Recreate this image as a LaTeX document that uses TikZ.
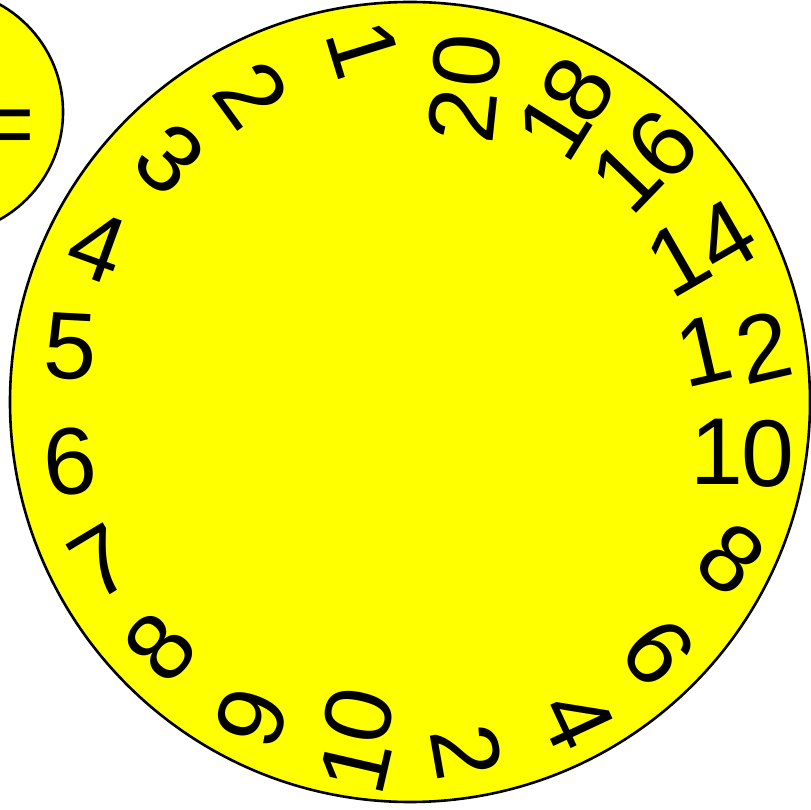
\documentclass[tikz,border=0pt]{standalone}
\usepackage{fontspec}
\setmainfont{Liberation Sans}
\definecolor{discyellow}{RGB}{255,255,0}
\newcommand\dg[5]{\node[dig, rotate=#4] (#1) at (#2,{810-#3}) {#5};}
\begin{document}
\begin{tikzpicture}[x=1bp,y=1bp,
  dig/.style={font=\fontsize{95bp}{95bp}\selectfont, inner sep=0pt, outer sep=0pt, text=black},
  disc/.style={circle, fill=discyellow, draw=black, line width=2.6bp, inner sep=0pt, minimum size=#1}]
\useasboundingbox (0,0) rectangle (811,810);
\clip (0,0) rectangle (811,810);
\node[disc=800bp] (big) at (410,408) {};
\node[disc=246bp] (small) at (-60,698) {};
\node[dig, anchor=base west] (eq) at (-20,653) {=};
% left set
\dg{l1}{363}{49}{-73}{1}
\dg{l2}{252}{94}{-54}{2}
\dg{l3}{170}{159}{-42}{3}
\dg{l4}{98}{247}{-20}{4}
\dg{l5}{71}{347}{-3}{5}
\dg{l6}{70}{462}{5}{6}
\dg{l7}{101}{562}{31}{7}
\dg{l8}{160}{647}{49}{8}
\dg{l9}{252}{717}{70}{9}
\dg{l10b}{359}{715}{77}{0}
\dg{l10a}{356}{765}{77}{1}
% right set
\dg{r2}{467}{752}{-80}{2}
\dg{r4}{577}{720}{-65}{4}
\dg{r6}{659}{652}{-52}{6}
\dg{r8}{731}{559}{-38}{8}
\dg{r10a}{717}{452}{0}{1}
\dg{r10b}{768}{454}{0}{0}
\dg{r12a}{704}{351}{13}{1}
\dg{r12b}{764}{347}{13}{2}
\dg{r14a}{678}{259}{30}{1}
\dg{r14b}{725}{237}{30}{4}
\dg{r16a}{626}{177}{46}{1}
\dg{r16b}{662}{145}{46}{6}
\dg{r18a}{554}{127}{58}{1}
\dg{r18b}{578}{90}{58}{8}
\dg{r20a}{462}{116}{84}{2}
\dg{r20b}{467}{61}{84}{0}
\end{tikzpicture}
\end{document}
